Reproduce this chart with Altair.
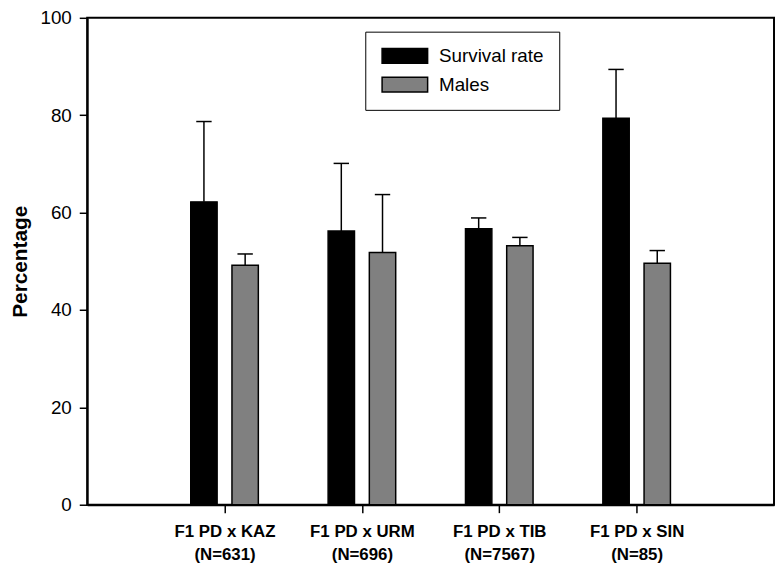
import altair as alt
import pandas as pd

crosses = ["F1 PD x KAZ", "F1 PD x URM", "F1 PD x TIB", "F1 PD x SIN"]
sample_sizes = ["(N=631)", "(N=696)", "(N=7567)", "(N=85)"]
series = ["Survival rate", "Males"]
survival = [62.2, 56.2, 56.7, 79.4]
survival_upper = [78.7, 70.1, 58.9, 89.4]
males = [49.2, 51.8, 53.2, 49.6]
males_upper = [51.5, 63.7, 54.9, 52.2]

FONT = "Liberation Sans"
half_bar = 0.096
half_cap = 0.056
rows = []
for i, c in enumerate(crosses):
    for s, vals, ups, side in [(series[0], survival, survival_upper, -1),
                               (series[1], males, males_upper, 1)]:
        center = i + 1 + side * 0.15
        rows.append(dict(cross=c, series=s, value=vals[i], upper=ups[i],
                         x0=center - half_bar, x1=center + half_bar, xc=center,
                         c0=center - half_cap, c1=center + half_cap))
df = pd.DataFrame(rows)

label_expr = "[" + ",".join(
    f"['{c}','{n}']" for c, n in zip(crosses, sample_sizes)) + "][datum.value - 1]"

xscale = alt.Scale(domain=[0, 5], nice=False, zero=False)
yscale = alt.Scale(domain=[0, 100], nice=False)

x_axis = alt.Axis(values=[1, 2, 3, 4], labelExpr=label_expr, title=None, grid=False,
                  tickSize=8, tickWidth=1.5, tickColor="black", domainColor="black",
                  domainWidth=2, labelFont=FONT, labelFontSize=17, labelFontWeight="bold",
                  labelColor="black", labelPadding=11, labelLineHeight=23, labelFlush=False)
y_axis = alt.Axis(values=[0, 20, 40, 60, 80, 100], title="Percentage", grid=False,
                  tickSize=8, tickWidth=1.5, tickColor="black", domainColor="black",
                  domainWidth=2, labelFont=FONT, labelFontSize=19, labelColor="black",
                  labelPadding=8, titleFont=FONT, titleFontSize=21, titleFontWeight="bold",
                  titleColor="black", titlePadding=10)

color = alt.Color("series:N",
                  scale=alt.Scale(domain=series, range=["#000000", "#808080"]),
                  legend=alt.Legend(orient="none", legendX=281, legendY=14, title=None,
                                    symbolType="M-3.067,-1H3.067V1H-3.067Z", symbolSize=225,
                                    symbolOffset=15.5,
                                    symbolStrokeColor="black", symbolStrokeWidth=1.5,
                                    symbolOpacity=1, labelFont=FONT, labelFontSize=19,
                                    labelColor="black", labelOffset=25, padding=15,
                                    rowPadding=8,
                                    strokeColor="black", fillColor="white",
                                    direction="vertical"))

base = alt.Chart(df)
bars = base.mark_bar(stroke="black", strokeWidth=1.5, opacity=1).encode(
    x=alt.X("x0:Q", scale=xscale, axis=x_axis),
    x2="x1:Q",
    y=alt.Y("value:Q", scale=yscale, axis=y_axis),
    y2=alt.datum(0),
    color=color,
)
err = base.mark_rule(color="black", strokeWidth=1.5).encode(
    x="xc:Q", y="value:Q", y2="upper:Q")
cap = base.mark_rule(color="black", strokeWidth=1.5).encode(
    x="c0:Q", x2="c1:Q", y="upper:Q")

chart = (bars + err + cap).properties(
    width=694, height=492,
    autosize=alt.AutoSizeParams(type="none"),
    padding={"left": 80, "top": 7, "right": 1, "bottom": 60},
    background="white",
).configure_view(stroke="black", strokeWidth=2)

chart.save("out.html", embed_options={"renderer": "svg", "actions": False})
